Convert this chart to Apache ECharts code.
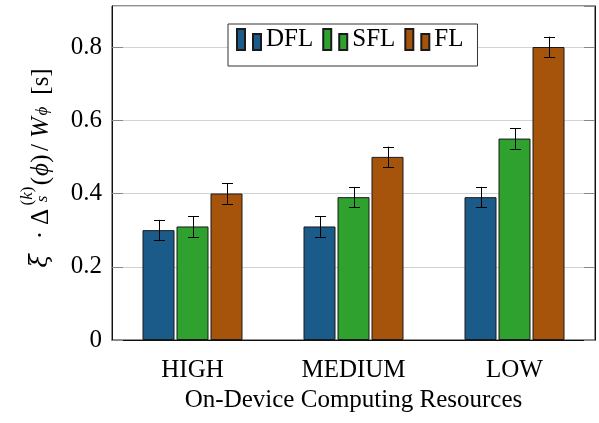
<!DOCTYPE html>
<html>
<head>
<meta charset="utf-8">
<script src="https://cdn.jsdelivr.net/npm/echarts@6/dist/echarts.min.js"></script>
<style>html,body{margin:0;padding:0;background:#fff;}#c{width:599px;height:423px;}</style>
</head>
<body>
<div id="c"></div>
<script>
const categories = ['HIGH', 'MEDIUM', 'LOW'];
const seriesNames = ['DFL', 'SFL', 'FL'];
const dflValues = [0.30, 0.31, 0.39];
const sflValues = [0.31, 0.39, 0.55];
const flValues = [0.40, 0.50, 0.80];
const dflErr = [0.028, 0.028, 0.028];
const sflErr = [0.028, 0.028, 0.028];
const flErr = [0.028, 0.028, 0.028];
const yTicks = [0, 0.2, 0.4, 0.6, 0.8];

const FONT = 'Liberation Serif';
const COLORS = ['#1b5b8a', '#2ea12e', '#a6530c'];
const BAR_W = 32;
const GAP = 2;

const chart = echarts.init(document.getElementById('c'), null, {renderer: 'canvas'});

function barSeries(name, vals, color) {
  return {
    name: name, type: 'bar', data: vals, barWidth: BAR_W, barGap: (GAP / BAR_W * 100) + '%',
    itemStyle: {color: color, borderColor: '#1a1a1a', borderWidth: 1},
    z: 2
  };
}
function errSeries(vals, errs, k) {
  return {
    type: 'custom', z: 10,
    data: vals.map((v, i) => [i, v - errs[i], v + errs[i]]),
    encode: {x: 0, y: [1, 2]},
    renderItem: function (params, api) {
      const lo = api.coord([api.value(0), api.value(1)]);
      const hi = api.coord([api.value(0), api.value(2)]);
      const x = Math.round(lo[0] + k * (BAR_W + GAP)) + 0.5;
      const cap = 5.5;
      const st = {stroke: '#000', lineWidth: 1};
      return {type: 'group', children: [
        {type: 'line', shape: {x1: x, y1: lo[1], x2: x, y2: hi[1]}, style: st},
        {type: 'line', shape: {x1: x - cap, y1: Math.round(lo[1]) + 0.5, x2: x + cap, y2: Math.round(lo[1]) + 0.5}, style: st},
        {type: 'line', shape: {x1: x - cap, y1: Math.round(hi[1]) + 0.5, x2: x + cap, y2: Math.round(hi[1]) + 0.5}, style: st}
      ]};
    }
  };
}

const yAxisCommon = {
  type: 'value', min: 0, max: 0.912, interval: 0.2,
  axisLine: {show: true, lineStyle: {color: '#111', width: 1}},
  axisTick: {show: true, inside: true, length: 11, lineStyle: {color: '#888'}},
  splitLine: {show: false}
};

// y-axis title pieces: c = position along the reading direction (upwards from y=273), d = offset across it (from x=41)
const mainSize = 25, subSize = 17;
const tokenStyles = {
  n: {fontSize: mainSize, fontFamily: FONT, fill: '#000', verticalAlign: 'middle'},
  i: {fontSize: mainSize, fontFamily: FONT, fontStyle: 'italic', fill: '#000', verticalAlign: 'middle'},
  g: {fontSize: 24, fontFamily: 'DejaVu Serif', fontStyle: 'italic', fill: '#000', verticalAlign: 'middle'},
  sn: {fontSize: subSize, fontFamily: FONT, fill: '#000', verticalAlign: 'middle'},
  si: {fontSize: subSize, fontFamily: FONT, fontStyle: 'italic', fill: '#000', verticalAlign: 'middle'}
};
const titleParts = [
  {t: '{g|ξ}', c: 12, d: 0},
  {t: '{n|·}', c: 38, d: 0},
  {t: '{n|Δ}', c: 56, d: 0},
  {t: '{si|s}', c: 74, d: 2},
  {t: '{sn|(}{si|k}{sn|)}', c: 77, d: -13},
  {t: '{n|(}', c: 92, d: 0},
  {t: '{i|ϕ}', c: 103.5, d: 0},
  {t: '{n|)}', c: 114.5, d: 0},
  {t: '{n|/}', c: 125.5, d: 0},
  {t: '{i|W}', c: 145.5, d: 0},
  {t: '{si|ϕ}', c: 162, d: 2},
  {t: '{n|[s]}', c: 191.5, d: 0}
];
const titleGraphics = titleParts.map(p => ({
  type: 'text', x: 41 + p.d, y: 273 - p.c, rotation: Math.PI / 2,
  style: {text: p.t, align: 'center', verticalAlign: 'middle', fontSize: mainSize, fontFamily: FONT, rich: tokenStyles}
}));

const option = {
  animation: false,
  backgroundColor: '#fff',
  textStyle: {fontFamily: FONT},
  grid: {left: 112, right: 4, top: 6, bottom: 83, show: true, borderColor: '#222', borderWidth: 1, containLabel: false},
  legend: {
    data: seriesNames, left: 228, top: 24, orient: 'horizontal',
    padding: [3, 14, 14, 8], itemGap: 9, itemWidth: 24, itemHeight: 21,
    icon: 'path://M0,0H8V21H0Z M16,5H24V21H16Z',
    borderColor: '#333', borderWidth: 1, backgroundColor: '#fff',
    textStyle: {fontFamily: FONT, fontSize: 25, color: '#000'}
  },
  xAxis: {
    type: 'category', data: categories, boundaryGap: true,
    axisLine: {show: true, lineStyle: {color: '#111', width: 1}},
    axisTick: {show: false},
    axisLabel: {fontFamily: FONT, fontSize: 25, color: '#000', margin: 18},
    name: 'On-Device Computing Resources', nameLocation: 'middle', nameGap: 47,
    nameTextStyle: {fontFamily: FONT, fontSize: 25, color: '#000'}
  },
  yAxis: [
    Object.assign({}, yAxisCommon, {
      position: 'left',
      splitLine: {show: true, lineStyle: {color: '#d2d2d2', width: 1}},
      axisLabel: {
        fontFamily: FONT, fontSize: 25, color: '#000', margin: 10, showMaxLabel: false,
        formatter: v => {
          const t = yTicks.find(tk => Math.abs(tk - v) < 1e-9);
          return t === undefined ? '' : (t === 0 ? '0' : String(t));
        }
      }
    }),
    Object.assign({}, yAxisCommon, {position: 'right', axisLabel: {show: false}})
  ],
  graphic: titleGraphics,
  series: [
    barSeries(seriesNames[0], dflValues, COLORS[0]),
    barSeries(seriesNames[1], sflValues, COLORS[1]),
    barSeries(seriesNames[2], flValues, COLORS[2]),
    errSeries(dflValues, dflErr, -1),
    errSeries(sflValues, sflErr, 0),
    errSeries(flValues, flErr, 1)
  ]
};
chart.setOption(option);
</script>
</body>
</html>
